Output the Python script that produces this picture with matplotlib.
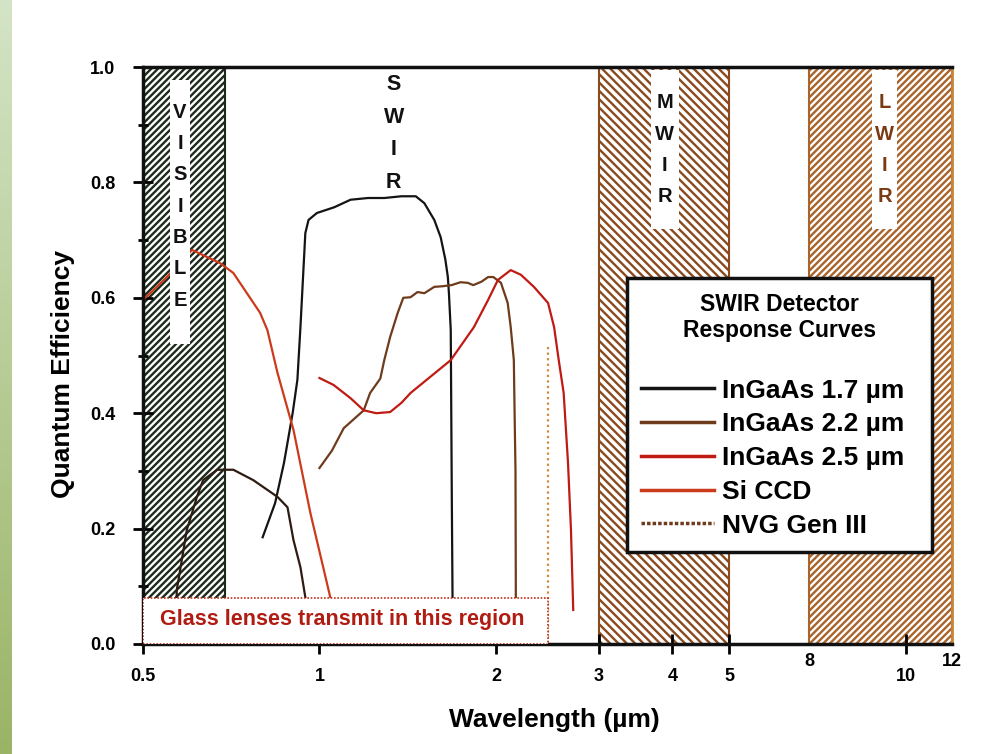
import numpy as np
import matplotlib.pyplot as plt
from matplotlib.patches import Rectangle
from matplotlib.lines import Line2D
from matplotlib.colors import LinearSegmentedColormap

plt.rcParams['font.family'] = ['Liberation Sans', 'DejaVu Sans']
plt.rcParams['font.weight'] = 'bold'
plt.rcParams['axes.labelweight'] = 'bold'
plt.rcParams['hatch.linewidth'] = 1.7

# curves: wavelength (um) vs quantum efficiency
ingaas17_wl = [0.80, 0.84, 0.87, 0.90, 0.917, 0.928, 0.946, 0.958, 0.99, 1.06, 1.13,
               1.21, 1.29, 1.38, 1.46, 1.51, 1.57, 1.61, 1.64, 1.656, 1.663, 1.675,
               1.682, 1.689]
ingaas17_qe = [0.185, 0.244, 0.314, 0.40, 0.458, 0.549, 0.712, 0.735, 0.747, 0.757, 0.770,
               0.773, 0.773, 0.776, 0.776, 0.764, 0.735, 0.705, 0.666, 0.636, 0.608, 0.544,
               0.25, 0.0]

ingaas22_wl = [1.0, 1.05, 1.10, 1.19, 1.22, 1.27, 1.29, 1.32, 1.36, 1.39, 1.43, 1.47,
               1.51, 1.57, 1.62, 1.68, 1.74, 1.79, 1.83, 1.89, 1.94, 1.98, 2.04, 2.095,
               2.12, 2.146, 2.15, 2.16, 2.163, 2.17]
ingaas22_qe = [0.305, 0.335, 0.374, 0.405, 0.435, 0.46, 0.492, 0.532, 0.574, 0.60, 0.601, 0.61,
               0.608, 0.619, 0.62, 0.622, 0.627, 0.626, 0.622, 0.628, 0.636, 0.636, 0.626, 0.591,
               0.549, 0.492, 0.435, 0.30, 0.08, 0.0]

ingaas25_wl = [1.0, 1.057, 1.13, 1.19, 1.25, 1.32, 1.38, 1.43, 1.675, 1.834, 1.939, 2.016,
               2.12, 2.206, 2.322, 2.455, 2.514, 2.56, 2.61, 2.655, 2.686, 2.71]
ingaas25_qe = [0.461, 0.449, 0.426, 0.405, 0.40, 0.402, 0.418, 0.435, 0.492, 0.549, 0.596, 0.631,
               0.648, 0.640, 0.619, 0.591, 0.549, 0.492, 0.435, 0.314, 0.198, 0.059]

siccd_wl = [0.50, 0.549, 0.606, 0.677, 0.713, 0.792, 0.815, 0.848, 0.903, 0.965, 1.044, 1.07]
siccd_qe = [0.596, 0.636, 0.683, 0.66, 0.643, 0.574, 0.544, 0.47, 0.371, 0.227, 0.08, 0.0]

nvg_wl = [0.567, 0.571, 0.594, 0.618, 0.633, 0.669, 0.713, 0.771, 0.848, 0.882, 0.903,
          0.928, 0.946, 0.954]
nvg_qe = [0.0, 0.094, 0.198, 0.255, 0.284, 0.302, 0.302, 0.284, 0.255, 0.237, 0.18,
          0.133, 0.081, 0.0]

cutoff_wl = [2.45, 2.45]
cutoff_qe = [0.515, 0.0]

series_labels = ['InGaAs 1.7 \u00b5m', 'InGaAs 2.2 \u00b5m', 'InGaAs 2.5 \u00b5m',
                 'Si CCD', 'NVG Gen III']
series_colors = ['#141414', '#6e3b1c', '#c01a14', '#cc3a1c', '#2e1c12']

# spectral bands
band_names = ['VISIBLE', 'MWIR', 'LWIR']
band_lo = [0.5, 3.0, 6.85]
band_hi = [0.69, 5.0, 12.0]
band_hatch = ['/////', '\\\\\\\\', '/////']
band_color = ['#1c2a1c', '#8a4a1e', '#a8642a']
band_text_color = ['#111111', '#111111', '#7a3a14']
band_box_x = [(0.556, 0.601), (3.68, 4.10), (8.76, 9.67)]
band_box_y = [(0.52, 0.977), (0.72, 0.995), (0.72, 0.995)]
band_letter_top = [0.922, 0.938, 0.938]

xtick_vals = [0.5, 1, 2, 3, 4, 5, 10]
xtick_labels = ['0.5', '1', '2', '3', '4', '5', '10']
extra_xlabels = ['8', '12']
extra_xpos = [6.85, 12.0]

fig = plt.figure(figsize=(9.98, 7.54), dpi=100)

# green strip at the left edge
strip = fig.add_axes([0, 0, 0.012, 1])
grad = np.linspace(0, 1, 256).reshape(-1, 1)
cmap = LinearSegmentedColormap.from_list('g', ['#d4e4c6', '#9ab466'])
strip.imshow(grad, aspect='auto', cmap=cmap, origin='upper')
strip.axis('off')

ax = fig.add_axes([0.1433, 0.1459, 0.8106, 0.7652])
ax.set_xscale('log')
ax.set_xlim(0.5, 12)
ax.set_ylim(0, 1)

for i, name in enumerate(band_names):
    ax.add_patch(Rectangle((band_lo[i], 0), band_hi[i] - band_lo[i], 1,
                           facecolor='white', edgecolor=band_color[i],
                           hatch=band_hatch[i], linewidth=0, zorder=1))
    ax.axvline(band_lo[i], color=band_color[i], lw=1.5, zorder=1.5)
    ax.axvline(band_hi[i], color=band_color[i], lw=1.5, zorder=1.5)
    x0, x1 = band_box_x[i]
    y0, y1 = band_box_y[i]
    ax.add_patch(Rectangle((x0, y0), x1 - x0, y1 - y0, facecolor='white',
                           edgecolor='none', zorder=3))
    xc = np.sqrt(x0 * x1)
    for j, ch in enumerate(name):
        ax.text(xc, band_letter_top[i] - j * 0.0543, ch, ha='center', va='center',
                fontsize=14.5, color=band_text_color[i], zorder=4)

for j, ch in enumerate('SWIR'):
    ax.text(1.339, 0.969 - j * 0.0563, ch, ha='center', va='center',
            fontsize=15.5, color='#111111', zorder=4)

curves = [(ingaas17_wl, ingaas17_qe), (ingaas22_wl, ingaas22_qe),
          (ingaas25_wl, ingaas25_qe), (siccd_wl, siccd_qe), (nvg_wl, nvg_qe)]
for (wl, qe), c in zip(curves, series_colors):
    ax.plot(wl, qe, color=c, lw=1.6, zorder=2)
ax.plot(cutoff_wl, cutoff_qe, color='#d08a3a', lw=1.6, ls=(0, (1, 1.5)), zorder=2)

# glass lenses box
ax.add_patch(Rectangle((0.5, 0), 2.455 - 0.5, 0.08, facecolor='white',
                       edgecolor='#c0301c', lw=1.2, ls=(0, (1, 1)), zorder=5))
ax.text(1.095, 0.042, 'Glass lenses transmit in this region', ha='center', va='center',
        fontsize=15.5, color='#b01c12', zorder=6)

handles = [Line2D([], [], color=c, lw=2.5) for c in series_colors]
handles[-1].set_linestyle((0, (1, 0.6)))
handles[-1].set_color('#6e3b1c')
leg = ax.legend(handles, series_labels, title='SWIR Detector\nResponse Curves\n',
                loc='upper left', bbox_to_anchor=(0.598, 0.168, 0.377, 0.466),
                mode='expand', fontsize=19, title_fontsize=16.5, handlelength=2.75,
                handletextpad=0.3, labelspacing=0.37, borderpad=0.55,
                fancybox=False, framealpha=1, edgecolor='#111111', borderaxespad=0)
leg.get_frame().set_linewidth(2.5)
leg.get_title().set_fontweight('bold')
leg.get_title().set_multialignment('center')
leg.get_title().set_linespacing(1.2)
leg.set_zorder(10)

ax.set_xticks(xtick_vals)
ax.set_xticklabels(xtick_labels)
ax.xaxis.set_minor_locator(plt.NullLocator())
for lab, xp in zip(extra_xlabels, extra_xpos):
    ax.text(xp, -0.016, lab, transform=ax.get_xaxis_transform(), ha='center',
            va='top', fontsize=13)
ax.set_yticks([0, 0.2, 0.4, 0.6, 0.8, 1.0])
ax.set_yticklabels(['0.0', '0.2', '0.4', '0.6', '0.8', '1.0'])
ax.set_yticks(np.arange(0.1, 1.0, 0.2), minor=True)
ax.tick_params(which='major', direction='inout', length=14, width=2, labelsize=13)
ax.tick_params(which='minor', direction='inout', length=7, width=2)
ax.tick_params(axis='y', pad=13)
ax.tick_params(axis='x', pad=10)

for s in ['left', 'bottom', 'top']:
    ax.spines[s].set_linewidth(2.5)
    ax.spines[s].set_color('#111111')
ax.spines['right'].set_linewidth(2)
ax.spines['right'].set_color('#c8843a')

ax.set_xlabel('Wavelength (\u00b5m)', fontsize=19)
ax.set_ylabel('Quantum Efficiency', fontsize=19)
ax.xaxis.set_label_coords(0.509, -0.111)
ax.yaxis.set_label_coords(-0.084, 0.468)

fig.savefig('out.png', dpi=100)
